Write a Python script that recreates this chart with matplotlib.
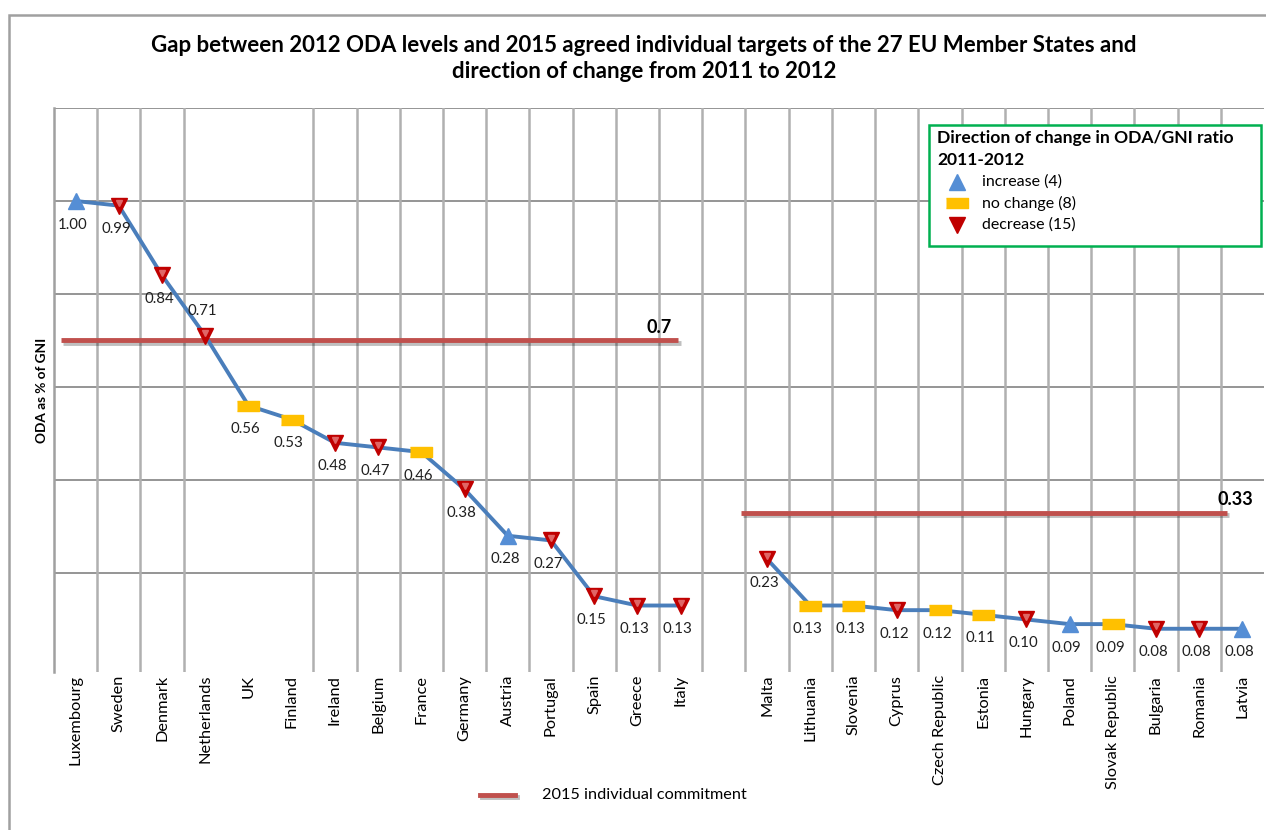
import numpy as np
import matplotlib.pyplot as plt
import matplotlib.patheffects as pe
from matplotlib.patches import Rectangle
from matplotlib.lines import Line2D

plt.rcParams['font.family'] = ['Lato', 'DejaVu Sans']

# EU-15 (0.7% target) and EU-12 (0.33% target) member states
old_members = ['Luxembourg', 'Sweden', 'Denmark', 'Netherlands', 'UK', 'Finland',
               'Ireland', 'Belgium', 'France', 'Germany', 'Austria', 'Portugal',
               'Spain', 'Greece', 'Italy']
old_oda = [1.00, 0.99, 0.84, 0.71, 0.56, 0.53, 0.48, 0.47, 0.46, 0.38, 0.28, 0.27,
           0.15, 0.13, 0.13]
old_change = ['up', 'down', 'down', 'down', 'same', 'same', 'down', 'down', 'same',
              'down', 'up', 'down', 'down', 'down', 'down']

new_members = ['Malta', 'Lithuania', 'Slovenia', 'Cyprus', 'Czech Republic', 'Estonia',
               'Hungary', 'Poland', 'Slovak Republic', 'Bulgaria', 'Romania', 'Latvia']
new_oda = [0.23, 0.13, 0.13, 0.12, 0.12, 0.11, 0.10, 0.09, 0.09, 0.08, 0.08, 0.08]
new_change = ['down', 'same', 'same', 'down', 'same', 'same', 'down', 'up', 'same',
              'down', 'down', 'up']

old_target = 0.7
new_target = 0.33

legend_labels = {'up': 'increase (4)', 'same': 'no change (8)', 'down': 'decrease (15)'}

blue = '#4A7EBB'
red = '#C00000'
yellow = '#FFC000'
target_red = '#C0504D'

rect = [(-1, -0.45), (1, -0.45), (1, 0.45), (-1, 0.45)]
marker_style = {
    'up': dict(marker='^', markersize=11, color='#558ED5'),
    'same': dict(marker=rect, markersize=16, color=yellow),
    'down': dict(marker='v', markersize=12, color=red),
}

W, H = 1266, 830


def fx(px):
    return px / W


def fy(py):
    return 1 - py / H


fig = plt.figure(figsize=(W / 100, H / 100), dpi=100)
ax = fig.add_axes([fx(54), 158 / H, 1210 / W, 564 / H])

x_old = np.arange(len(old_members))
x_new = np.arange(len(new_members)) + len(old_members) + 1
n_slots = len(old_members) + len(new_members) + 1

ax.set_xlim(-0.5, n_slots - 0.5)
ax.set_ylim(-0.013, 1.2)

# grid: horizontal every 0.2, vertical between categories
for y in np.arange(0.2, 1.21, 0.2):
    ax.axhline(y, color='#8C8C8C', lw=1.3, zorder=1)
for b in np.arange(0.5, n_slots - 0.5):
    if b in (3.5, 4.5):
        continue
    ax.axvline(b, color='#B0B0B0', lw=1.8, zorder=1)
for s in ['top', 'right', 'bottom']:
    ax.spines[s].set_visible(False)
ax.spines['left'].set_color('#A0A0A0')
ax.spines['left'].set_linewidth(1.8)

# commitment lines
shadow = [pe.SimpleLineShadow(offset=(1.5, -1.5), alpha=0.25), pe.Normal()]
ax.plot([-0.33, 13.95], [old_target, old_target], color=target_red, lw=3.5,
        zorder=3, solid_capstyle='butt', path_effects=shadow)
ax.plot([15.4, 26.65], [new_target, new_target], color=target_red, lw=3.5,
        zorder=3, solid_capstyle='butt', path_effects=shadow)
ax.text(13.8, old_target + 0.01, f'{old_target:g}', ha='right', va='bottom',
        fontsize=13, fontweight='bold')
ax.text(27.25, new_target + 0.01, f'{new_target:g}', ha='right', va='bottom',
        fontsize=13, fontweight='bold')

# ODA series
for xs, vals, changes in [(x_old, old_oda, old_change), (x_new, new_oda, new_change)]:
    ax.plot(xs, vals, color=blue, lw=2.8, zorder=4, solid_capstyle='round')
    for x, v, c in zip(xs, vals, changes):
        ax.plot(x, v, linestyle='none', zorder=5, **marker_style[c])
        if c == 'down':
            ax.plot(x, v + 0.006, marker='v', markersize=5, color='#E06666',
                    linestyle='none', zorder=6)
        if x == 3:
            off = 18
        else:
            off = -17
        ax.annotate(f'{v:.2f}', (x, v), xytext=(-2, off), textcoords='offset points',
                    ha='center', va='center', fontsize=10.8, color='#202020', zorder=7)

ax.set_yticks([])
ax.set_xticks(np.concatenate([x_old, x_new]))
ax.set_xticklabels(old_members + new_members, rotation=90, fontsize=11.8,
                   va='top', ha='center')
ax.tick_params(axis='x', length=0, pad=2)

ax.set_ylabel('ODA as % of GNI', fontsize=9.8, fontweight='bold', labelpad=4)

# direction-of-change legend box, laid out by hand
fig.add_artist(Rectangle((fx(929), fy(246)), fx(1261) - fx(929), fy(125) - fy(246),
                         transform=fig.transFigure, facecolor='white',
                         edgecolor='#00B050', lw=1.8, zorder=10))
fig.text(fx(937), fy(138), 'Direction of change in ODA/GNI ratio', fontsize=12.6,
         fontweight='bold', va='center', ha='left', zorder=11)
fig.text(fx(937), fy(160), '2011-2012', fontsize=12.6, fontweight='bold',
         va='center', ha='left', zorder=11)
for key, row_y in zip(['up', 'same', 'down'], [182, 203, 225]):
    fig.add_artist(Line2D([fx(957)], [fy(row_y)], linestyle='none', zorder=11,
                          **marker_style[key]))
    fig.text(fx(982), fy(row_y), legend_labels[key], fontsize=11.5, va='center',
             ha='left', zorder=11)

# commitment legend at the bottom
fig.add_artist(Line2D([fx(480), fx(515)], [fy(795), fy(795)], color=target_red,
                      lw=3.5, path_effects=shadow))
fig.text(fx(542), fy(795), '2015 individual commitment', fontsize=11.7,
         va='center', ha='left')

fig.text(fx(644), fy(45), 'Gap between 2012 ODA levels and 2015 agreed individual '
         'targets of the 27 EU Member States and', ha='center', va='center',
         fontsize=16, fontweight='bold')
fig.text(fx(644), fy(72), 'direction of change from 2011 to 2012', ha='center',
         va='center', fontsize=16, fontweight='bold')

fig.add_artist(Rectangle((fx(9), -0.1), 1.2, 1.1 - 15 / H, transform=fig.transFigure,
                         fill=False, edgecolor='#A0A0A0', lw=1.8))

fig.savefig('out.png', dpi=100)
